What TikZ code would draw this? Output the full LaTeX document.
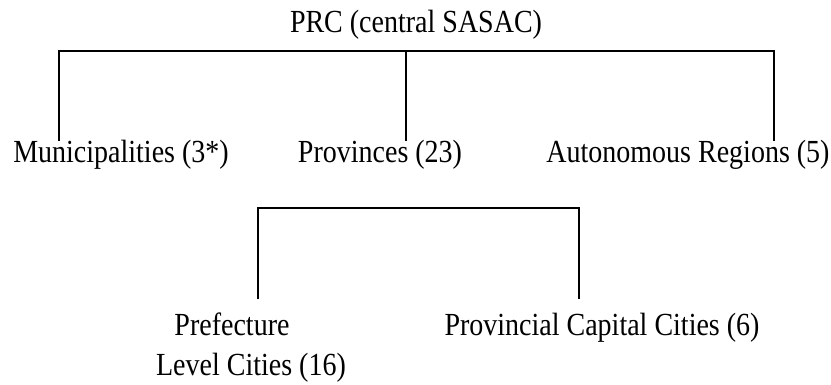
\documentclass[tikz,border=0pt]{standalone}
\usepackage{fontspec}
\usepackage{graphicx}
\setmainfont{Liberation Serif}
\newcommand{\tall}[1]{\scalebox{1}[1.15]{#1}}
\begin{document}
\begin{tikzpicture}[x=1pt,y=-1pt,
  lbl/.style={inner sep=0pt, anchor=base, font=\fontsize{28}{40}\selectfont},
  conn/.style={line width=1.8pt}]
\useasboundingbox (0,0) rectangle (831,385);
% labels
\node[lbl] (prc)   at (416,33)  {\tall{PRC (central SASAC)}};
\node[lbl] (muni)  at (121,163) {\tall{Municipalities (3*)}};
\node[lbl] (prov)  at (380,163) {\tall{Provinces (23)}};
\node[lbl] (auto)  at (688,163) {\tall{Autonomous Regions (5)}};
\node[lbl] (pref)  at (232,335) {\tall{Prefecture}};
\node[lbl] (level) at (251,375) {\tall{Level Cities (16)}};
\node[lbl] (cap)   at (602,335) {\tall{Provincial Capital Cities (6)}};
% junction points of the first bracket
\coordinate (aL)  at (59,51);
\coordinate (aM)  at (406,51);
\coordinate (aR)  at (774,51);
\coordinate (aLe) at (59,141);
\coordinate (aMe) at (406,141);
\coordinate (aRe) at (774,141);
% junction points of the second bracket
\coordinate (bL)  at (258,208);
\coordinate (bR)  at (579,208);
\coordinate (bLe) at (258,299);
\coordinate (bRe) at (579,299);
% connectors
\draw[conn] (aLe) |- (aR) -- (aRe);
\draw[conn] (aM) -- (aMe);
\draw[conn] (bLe) |- (bR) -- (bRe);
\end{tikzpicture}
\end{document}
